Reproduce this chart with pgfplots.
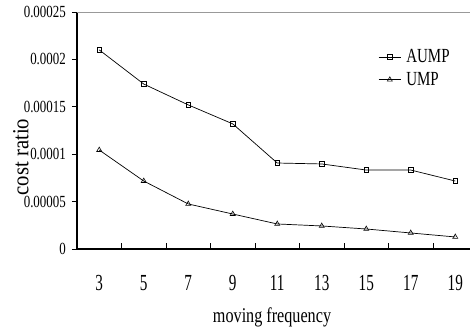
\documentclass[border=0pt]{standalone}
\usepackage{pgfplots}
\pgfplotsset{compat=1.18}
\usepackage{fontspec}
\setmainfont{Liberation Serif}
\newfontfamily\xtickfont[FakeStretch=0.66]{Liberation Serif}
\newfontfamily\ytickfont[FakeStretch=0.76]{Liberation Serif}
\newfontfamily\legfont[FakeStretch=0.75]{Liberation Serif}
\newfontfamily\labfont[FakeStretch=0.77]{Liberation Serif}
\newfontfamily\ylabfont[FakeStretch=0.9]{Liberation Serif}
\begin{document}
\begin{tikzpicture}
\begin{axis}[
  at={(77pt,79pt)}, anchor=south west,
  scale only axis, width=400.5pt, height=237pt,
  xmin=2, xmax=20, ymin=0, ymax=0.00025,
  axis x line*=bottom, axis y line*=left,
  axis line style={black, line width=1.2pt},
  xtick={3,5,...,19},
  minor xtick={4,6,...,18},
  major x tick style={draw=none},
  minor x tick style={black, line width=0.9pt},
  xtick align=inside,
  minor tick length=6pt,
  ytick={0,0.00005,0.0001,0.00015,0.0002,0.00025},
  yticklabels={0,0.00005,0.0001,0.00015,0.0002,0.00025},
  scaled y ticks=false,
  ytick align=outside,
  major tick length=5pt,
  y tick style={black, line width=0.9pt},
  /pgf/number format/assume math mode=true,
  xticklabel style={font=\xtickfont\fontsize{23}{27}\selectfont, anchor=center, yshift=-34pt},
  yticklabel style={font=\ytickfont\fontsize{17}{20}\selectfont, anchor=east, inner sep=0pt, xshift=-6pt},
  xlabel={moving frequency},
  xlabel style={font=\labfont\fontsize{21}{25}\selectfont, at={(rel axis cs:0.487,-0.287)}, anchor=center},
  ylabel={cost ratio},
  ylabel style={font=\ylabfont\fontsize{23}{27}\selectfont, at={(rel axis cs:-0.14,0.388)}, anchor=center},
  legend style={at={(0.752,0.85)}, anchor=north west, draw=none, fill=none, inner sep=0pt,
    font=\legfont\fontsize{20}{23}\selectfont, row sep=4pt,
    /tikz/every odd column/.append style={column sep=3pt},
    /tikz/every even column/.append style={column sep=0pt}},
  legend cell align=left,
  legend image code/.code={\draw[mark repeat=2,mark phase=2,#1] plot coordinates {(0cm,0cm) (0.39cm,0cm) (0.78cm,0cm)};},
  clip=false,
]
\addplot[black, line width=0.7pt, mark=square, mark size=2.3pt, mark options={fill=white, line width=0.6pt}]
coordinates {(3,0.000210) (5,0.000174) (7,0.000152) (9,0.000132) (11,0.0000907) (13,0.0000897) (15,0.0000833) (17,0.0000833) (19,0.0000717)};
\addlegendentry{AUMP}
\addplot[black, line width=0.7pt, mark=triangle, mark size=2.9pt, mark options={fill=white, line width=0.6pt}]
coordinates {(3,0.0001044) (5,0.0000717) (7,0.0000475) (9,0.0000369) (11,0.0000264) (13,0.0000243) (15,0.0000211) (17,0.0000169) (19,0.0000127)};
\addlegendentry{UMP}
\draw[gray!80, line width=0.8pt] (rel axis cs:0,1) -- (rel axis cs:1,1);
\end{axis}
\pgfresetboundingbox
\useasboundingbox (0,0) rectangle (470pt,328pt);
\end{tikzpicture}
\end{document}
